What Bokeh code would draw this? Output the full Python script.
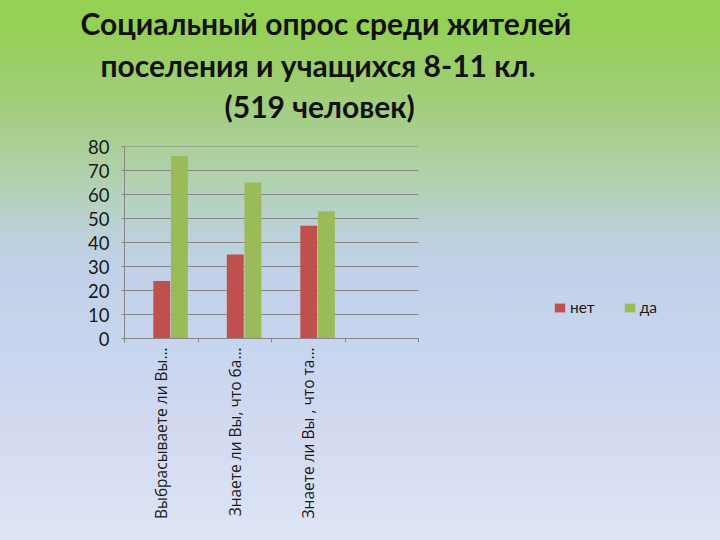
import math
from bokeh.plotting import figure
from bokeh.models import Range1d, FixedTicker, Title, Legend, LegendItem
from bokeh.embed import file_html
from bokeh.resources import INLINE

# ---- data ----
title_lines = ["Социальный опрос среди жителей",
               "поселения и учащихся 8-11 кл.",
               "(519 человек)"]
categories = ["Выбрасываете ли Вы…", "Знаете ли Вы, что ба…", "Знаете ли Вы , что та…", ""]
series_names = ["нет", "да"]
net_values = [24, 35, 47]
da_values = [76, 65, 53]
y_ticks = [0, 10, 20, 30, 40, 50, 60, 70, 80]

# ---- style ----
colors = ["#c0504d", "#9bbb59"]
bar_w = 0.23
pos_net = 0.507
pos_da = 0.747
font = "Lato"
frame_left, frame_right, chart_right = 124, 700, 418   # px: frame spans wider than the chart so the legend fits
x_end = len(categories) * (frame_right - frame_left) / (chart_right - frame_left)

p = figure(width=720, height=540, output_backend="svg", toolbar_location=None,
           x_range=Range1d(0, x_end), y_range=Range1d(0, 80),
           min_border_left=frame_left, min_border_right=720 - frame_right,
           min_border_top=145, min_border_bottom=202,
           styles={"background": "linear-gradient(to bottom, #93d153 0%, #94d055 5%, #a2cd7a 18.5%, "
                                 "#b0d1ae 33%, #bbd1d6 42.5%, #c1d0e8 49%, #c8d5ee 65%, #d3daf0 80%, #dde5f5 100%)"})
p.background_fill_alpha = 0
p.border_fill_alpha = 0
p.outline_line_color = None

# horizontal grid lines limited to the chart's categories
p.xgrid.grid_line_color = None
p.ygrid.grid_line_color = None
p.segment(x0=[0] * len(y_ticks), x1=[len(categories)] * len(y_ticks), y0=y_ticks, y1=y_ticks,
          line_color="#868686", line_width=1)

n = len(net_values)
r_net = p.vbar(x=[i + pos_net for i in range(n)], top=net_values, width=bar_w,
               fill_color=colors[0], line_color=None)
r_da = p.vbar(x=[i + pos_da for i in range(n)], top=da_values, width=bar_w,
              fill_color=colors[1], line_color=None)

# x axis
xa = p.xaxis[0]
xa.bounds = (0, len(categories))
xa.ticker = FixedTicker(ticks=[i + 0.5 for i in range(n)], minor_ticks=list(range(len(categories) + 1)))
xa.major_label_overrides = {i + 0.5: categories[i] for i in range(n)}
xa.major_label_orientation = math.pi / 2
xa.major_tick_in = 0
xa.major_tick_out = 0
xa.minor_tick_in = 0
xa.minor_tick_out = 4
xa.minor_tick_line_color = "#868686"
xa.axis_line_color = "#868686"
xa.major_label_text_font = "Open Sans"
xa.major_label_text_font_size = "15.5px"
xa.major_label_text_color = "#1a1a1a"
xa.major_label_standoff = 5

# y axis
ya = p.yaxis[0]
ya.ticker = FixedTicker(ticks=y_ticks)
ya.axis_line_color = "#868686"
ya.major_tick_out = 3
ya.major_tick_in = 0
ya.major_tick_line_color = "#868686"
ya.minor_tick_line_color = None
ya.major_label_text_font = font
ya.major_label_text_font_size = "18.5px"
ya.major_label_text_color = "#1a1a1a"
ya.major_label_standoff = 12

# title (closest line added first); padding given as (left, right, top, bottom)
title_offsets = [-44, -24, 100]
title_standoff = [4, 4, 2]
title_pad_bottom = [0, 0, 22]
for line, off, so, pad in reversed(list(zip(title_lines, title_offsets, title_standoff, title_pad_bottom))):
    p.add_layout(Title(text=line, align="left", offset=off, standoff=so,
                       padding=(0, 0, 0, pad),
                       text_font=font, text_font_style="bold",
                       text_font_size="30px", text_color="#111111"), "above")

legend = Legend(items=[LegendItem(label=series_names[0], renderers=[r_net]),
                       LegendItem(label=series_names[1], renderers=[r_da])],
                location=(429, 22), orientation="horizontal",
                background_fill_alpha=0, border_line_alpha=0, padding=0, margin=0,
                glyph_width=13, glyph_height=11, label_standoff=4, spacing=28,
                label_text_font=font, label_text_font_size="15.5px", label_text_color="#1a1a1a")
p.add_layout(legend)

open("out.html", "w").write(file_html(p, INLINE))
